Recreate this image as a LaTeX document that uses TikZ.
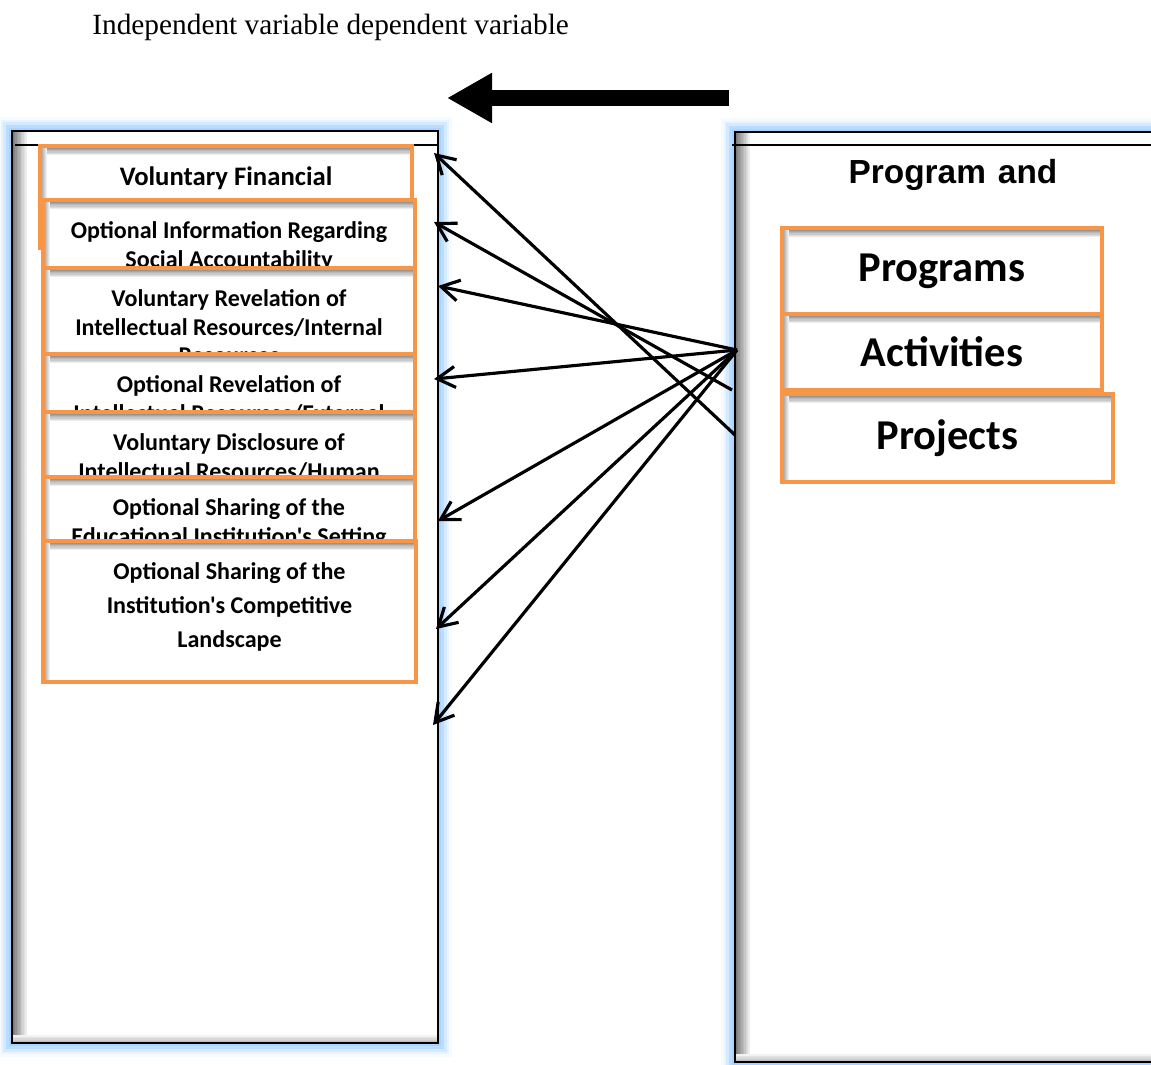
\documentclass[tikz,border=0pt]{standalone}
\usepackage{fontspec}
\setmainfont{Liberation Serif}
\newfontfamily\calibri{Carlito}
\newfontfamily\arialfont{Liberation Sans}
\usetikzlibrary{arrows.meta,positioning}

\definecolor{boxorange}{HTML}{F79646}
\definecolor{glowblue}{HTML}{A9D4FF}

\tikzset{
  panel/.style={draw=black, line width=1.1pt, fill=white, inner sep=0pt,
    preaction={draw=glowblue!10, line width=16pt},
    preaction={draw=glowblue!25, line width=13pt},
    preaction={draw=glowblue!50, line width=10pt},
    preaction={draw=glowblue!80, line width=7pt},
    preaction={draw=glowblue, line width=4pt},
    path picture={
      \foreach \i [evaluate=\i as \c using int(52-5*\i)] in {0,...,9}
        \draw[black!\c, line width=0.9pt]
          ([xshift=\i*0.85pt+0.45pt]path picture bounding box.north west) --
          ([xshift=\i*0.85pt+0.45pt]path picture bounding box.south west);
      \foreach \i [evaluate=\i as \c using int(25-5*\i)] in {0,...,4}
        \draw[black!\c, line width=0.9pt]
          ([yshift=\i*0.85pt+0.45pt]path picture bounding box.south west) --
          ([yshift=\i*0.85pt+0.45pt]path picture bounding box.south east);
    }},
  optbox/.style={draw=boxorange, line width=2.2pt, fill=white, inner sep=0pt,
    path picture={
      \foreach \i [evaluate=\i as \c using int(42-7*\i)] in {0,...,5}
        \draw[black!\c, line width=0.75pt]
          ([yshift=-\i*0.7pt-1.3pt]path picture bounding box.north west) --
          ([yshift=-\i*0.7pt-1.3pt]path picture bounding box.north east);
      \foreach \i [evaluate=\i as \c using int(30-6*\i)] in {0,...,4}
        \draw[black!\c, line width=0.65pt]
          ([xshift=\i*0.6pt+1.3pt]path picture bounding box.north west) --
          ([xshift=\i*0.6pt+1.3pt]path picture bounding box.south west);
    }},
  optlabel/.style={font=\calibri\bfseries\fontsize{13.7}{16.4}\selectfont, align=center, inner sep=0pt},
  bigtext/.style={font=\calibri\bfseries\fontsize{24.2}{28}\selectfont},
  link/.style={line width=1.8pt, -{Straight Barb[length=0.36cm, width=0.42cm]}}
}

\begin{document}
\begin{tikzpicture}[x=0.02cm, y=-0.02cm]
  \useasboundingbox (0,0) rectangle (1151,1064);

  \node[anchor=base west, inner sep=0pt, font=\fontsize{16.7}{20}\selectfont] (title) at (92,35)
    {Independent variable dependent variable};

  % the two panels
  \node[panel, minimum width=8.52cm, minimum height=18.24cm] (indep) at (225,587) {};
  \node[panel, minimum width=8.6cm, minimum height=18.6cm] (dep) at (950,597) {};
  \draw[line width=0.8pt] (15,145) -- (437,145);
  \draw[line width=0.8pt] (732,145) -- (1151,145);

  % big arrow on top
  \coordinate (arrowR) at (729,98);
  \coordinate (arrowL) at (447,98);
  \draw[line width=9pt, -{Triangle[length=0.9cm, width=0.94cm]}] (arrowR) -- (arrowL);

  % independent side
  \node[optbox, minimum width=7.44cm, minimum height=2.04cm] (vfin) at (226,197) {};
  \node[optlabel, font=\calibri\bfseries\fontsize{15.2}{16.4}\selectfont, below=0.44cm of vfin.north] (vfin-t) {Voluntary Financial};
  \node[optbox, minimum width=7.44cm, minimum height=1.36cm] (social) at (229,234) {};
  \node[optlabel, below=0.46cm of social.north] (social-t) {Optional Information Regarding\\Social Accountability};
  \node[optbox, minimum width=7.44cm, minimum height=1.72cm] (internal) at (229,311) {};
  \node[optlabel, below=0.46cm of internal.north] (internal-t) {Voluntary Revelation of\\Intellectual Resources/Internal\\Resources};
  \node[optbox, minimum width=7.44cm, minimum height=1.16cm] (external) at (229,383) {};
  \node[optlabel, below=0.46cm of external.north] (external-t) {Optional Revelation of\\Intellectual Resources/External};
  \node[optbox, minimum width=7.44cm, minimum height=1.3cm] (human) at (229,444.5) {};
  \node[optlabel, below=0.46cm of human.north] (human-t) {Voluntary Disclosure of\\Intellectual Resources/Human};
  \node[optbox, minimum width=7.44cm, minimum height=1.28cm] (setting) at (229,509) {};
  \node[optlabel, below=0.46cm of setting.north] (setting-t) {Optional Sharing of the\\Educational Institution's Setting};
  \node[optbox, minimum width=7.46cm, minimum height=2.82cm] (compet) at (229.5,611.5) {};
  \node[optlabel, font=\calibri\bfseries\fontsize{13.7}{19.3}\selectfont, below=0.46cm of compet.north] (compet-t)
    {Optional Sharing of the\\Institution's Competitive\\Landscape};

  % dependent side
  \node[font=\arialfont\bfseries\fontsize{19}{22}\selectfont] (progand) at (953,175) {Program\hspace{0.36em}and};
  \node[optbox, bigtext, minimum width=6.4cm, minimum height=1.72cm] (programs) at (942,271) {Programs};
  \node[optbox, bigtext, minimum width=6.4cm, minimum height=1.52cm] (activities) at (942,352) {Activities};
  \node[optbox, bigtext, minimum width=6.62cm, minimum height=1.76cm] (projects) at (947.5,438) {Projects};

  % arrow ends
  \coordinate (hub) at (737,350);
  \coordinate (out1) at (735,435);
  \coordinate (out2) at (732,390);
  \coordinate (in1) at (434,153);
  \coordinate (in2) at (434,222);
  \coordinate (in3) at (438,286);
  \coordinate (in4) at (434,379);
  \coordinate (in5) at (438,521);
  \coordinate (in6) at (436,629);
  \coordinate (in7) at (433,725);

  \draw[link] (out1) -- (in1);
  \draw[link] (out2) -- (in2);
  \foreach \e in {in3,in4,in5,in6,in7}
    \draw[link] (hub) -- (\e);
\end{tikzpicture}
\end{document}
